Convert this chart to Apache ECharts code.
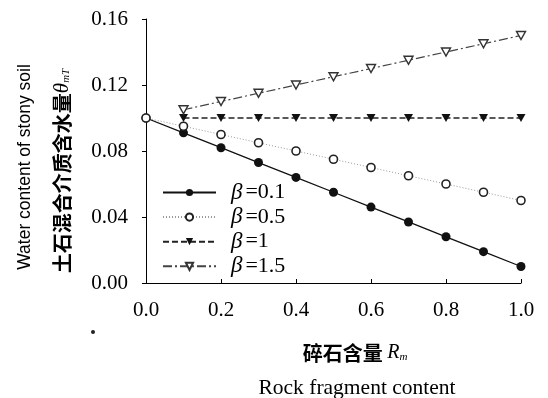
<!DOCTYPE html>
<html><head><meta charset="utf-8">
<script src="https://cdn.jsdelivr.net/npm/echarts@6/dist/echarts.min.js"></script>
<style>html,body{margin:0;padding:0;background:#fff}#c{width:548px;height:398px}</style>
</head><body><div id="c"></div>
<script>
const rm = [0.0, 0.1, 0.2, 0.3, 0.4, 0.5, 0.6, 0.7, 0.8, 0.9, 1.0];
const beta01 = [0.100, 0.091, 0.082, 0.073, 0.064, 0.055, 0.046, 0.037, 0.028, 0.019, 0.010];
const beta05 = [0.100, 0.095, 0.090, 0.085, 0.080, 0.075, 0.070, 0.065, 0.060, 0.055, 0.050];
const beta10 = [null, 0.100, 0.100, 0.100, 0.100, 0.100, 0.100, 0.100, 0.100, 0.100, 0.100];
const beta15 = [null, 0.105, 0.110, 0.115, 0.120, 0.125, 0.130, 0.135, 0.140, 0.145, 0.150];
const seriesNames = ['β=0.1', 'β=0.5', 'β=1', 'β=1.5'];
const legendLabels = ['0.1', '0.5', '1', '1.5'];

const pairs = arr => rm.map((x, i) => [x, arr[i]]);
const serif = 'Liberation Serif';
const downTri = 'path://M0,0 L10,0 L5,9 Z';

const chart = echarts.init(document.getElementById('c'));
chart.setOption({
  animation: false,
  backgroundColor: '#fff',
  grid: {left: 146, right: 27, top: 19, bottom: 115},
  xAxis: {
    type: 'value', min: 0, max: 1, interval: 0.2,
    axisLine: {lineStyle: {color: '#000', width: 1}},
    axisTick: {show: true, inside: true, length: 4, lineStyle: {color: '#000'}},
    splitLine: {show: false},
    axisLabel: {color: '#000', fontFamily: serif, fontSize: 21, margin: 17,
      formatter: v => v.toFixed(1)}
  },
  yAxis: {
    type: 'value', min: 0, max: 0.16, interval: 0.04,
    axisLine: {show: true, lineStyle: {color: '#000', width: 1}},
    axisTick: {show: true, length: 4, lineStyle: {color: '#000'}},
    splitLine: {show: false},
    axisLabel: {color: '#000', fontFamily: serif, fontSize: 21, margin: 18,
      formatter: v => v.toFixed(2)}
  },
  legend: {
    orient: 'vertical', left: 162, top: 181, padding: 0,
    itemWidth: 53, itemHeight: 9, itemGap: 1.6,
    data: seriesNames,
    formatter: n => '{b|β}{t|=' + legendLabels[seriesNames.indexOf(n)] + '}',
    textStyle: {color: '#000', fontFamily: serif, fontSize: 22, lineHeight: 20,
      rich: {b: {fontFamily: serif, fontStyle: 'italic', fontSize: 23, color: '#000', lineHeight: 20, padding: [0, 3, 0, 10]},
             t: {fontFamily: serif, fontSize: 22, color: '#000', lineHeight: 20}}}
  },
  series: [
    {name: seriesNames[0], type: 'line', data: pairs(beta01),
      symbol: 'circle', symbolSize: 9,
      lineStyle: {color: '#111', width: 1.3, type: 'solid'},
      itemStyle: {color: '#111', borderColor: '#111', borderWidth: 0}},
    {name: seriesNames[1], type: 'line', data: pairs(beta05),
      symbol: 'circle', symbolSize: 8,
      lineStyle: {color: '#999', width: 1, type: [1, 2]},
      itemStyle: {color: '#fff', borderColor: '#222', borderWidth: 1.6}},
    {name: seriesNames[2], type: 'line', data: pairs(beta10),
      symbol: downTri, symbolSize: [9, 8],
      lineStyle: {color: '#222', width: 1.3, type: [6, 3]},
      itemStyle: {color: '#111', borderColor: '#111', borderWidth: 0}},
    {name: seriesNames[3], type: 'line', data: pairs(beta15),
      symbol: downTri, symbolSize: [9, 8],
      lineStyle: {color: '#444', width: 1.2, type: [9, 3, 2, 3]},
      itemStyle: {color: '#fff', borderColor: '#333', borderWidth: 1.4}}
  ],
  graphic: [
    {type: 'text', x: 25, y: 167, rotation: Math.PI / 2,
      style: {text: 'Water content of stony soil', fill: '#000',
        font: '17.5px "Liberation Sans"', align: 'center', verticalAlign: 'middle'}},
    {type: 'text', x: 62, y: 171, rotation: Math.PI / 2,
      style: {text: '{c|土石混合介质含水量}{t|θ}{s|mT}', align: 'center', verticalAlign: 'middle',
        rich: {
          c: {font: 'bold 20px "Noto Sans CJK SC"', fill: '#000'},
          t: {font: 'italic 21px "Liberation Serif"', fill: '#000'},
          s: {font: 'italic 11px "Liberation Serif"', fill: '#000', padding: [8, 0, 0, 0]}
        }}},
    {type: 'text', x: 355, y: 353,
      style: {text: '{c|碎石含量 }{r|R}{s|m}', align: 'center', verticalAlign: 'middle',
        rich: {
          c: {font: 'bold 20px "Noto Sans CJK SC"', fill: '#000'},
          r: {font: 'italic 20px "Liberation Serif"', fill: '#000'},
          s: {font: 'italic 11px "Liberation Serif"', fill: '#000', padding: [8, 0, 0, 0]}
        }}},
    {type: 'text', x: 357, y: 388,
      style: {text: 'Rock fragment content', fill: '#000',
        font: '21.5px "Liberation Serif"', align: 'center', verticalAlign: 'middle'}},
    {type: 'circle', shape: {cx: 93, cy: 332, r: 2}, style: {fill: '#222'}}
  ]
});
</script></body></html>
